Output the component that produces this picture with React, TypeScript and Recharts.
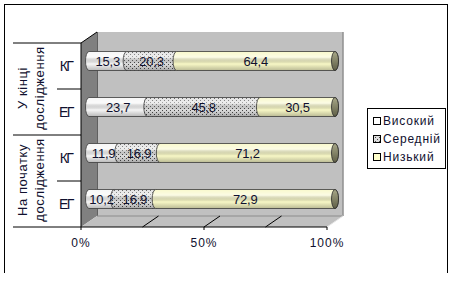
import React from "react";
import { BarChart, Bar, XAxis, YAxis, CartesianGrid, LabelList, Legend } from "recharts";

// ─── Data ────────────────────────────────────────────────────────────────────
const groupLabels = [["У кінці", "дослідження"], ["На початку", "дослідження"]];
const categories = ["КГ", "ЕГ", "КГ", "ЕГ"];
const highValues = [15.3, 23.7, 11.9, 10.2];
const mediumValues = [20.3, 45.8, 16.9, 16.9];
const lowValues = [64.4, 30.5, 71.2, 72.9];
const seriesNames = ["Високий", "Середній", "Низький"];
const xTicks = [0, 25, 50, 75, 100];

const data = categories.map((name, i) => ({
  id: String(i),
  name,
  high: highValues[i],
  medium: mediumValues[i],
  low: lowValues[i],
}));

// ─── Layout (3D box: front face + depth shift) ───────────────────────────────
const W = 453;
const H = 281;
const FRONT = { left: 81, top: 43, right: 327, bottom: 227 };
const DX = 16;
const DY = -11;
const BAND = (FRONT.bottom - FRONT.top) / categories.length;
const FONT = "'Liberation Sans', Arial, sans-serif";
const INK = "#10102e";
const RX = 3.5;
const TICK_SIZE = 6;
const TICK_MARGIN = 2;

const layer: React.CSSProperties = { position: "absolute", left: 0, top: 0 };

function cylinderPath(x: number, y: number, w: number, h: number) {
  const ry = h / 2;
  return `M${x},${y} L${x + w},${y} A${RX},${ry} 0 0 1 ${x + w},${y + h} L${x},${y + h} A${RX},${ry} 0 0 1 ${x},${y} Z`;
}

function makeCylinder(fill: string, withCap: boolean) {
  return (props: any) => {
    const { x, y, width, height } = props;
    if (!width || width <= 0) return <g />;
    const d = cylinderPath(x, y, width, height);
    return (
      <g>
        <path d={d} fill={fill} />
        <path d={d} fill="url(#shade)" stroke="#3a3a3a" strokeWidth={0.8} />
        {withCap && (
          <ellipse
            cx={x + width}
            cy={y + height / 2}
            rx={RX}
            ry={height / 2}
            fill="url(#capGrad)"
            stroke="#2a2a2a"
            strokeWidth={0.8}
          />
        )}
      </g>
    );
  };
}

const HighShape = makeCylinder("#f6f6f6", false);
const MediumShape = makeCylinder("url(#dots)", false);
const LowShape = makeCylinder("#f8f8c6", true);

function ValueLabel(props: any) {
  const { x, y, width, height, value } = props;
  return (
    <text
      x={x + width / 2}
      y={y + height / 2 + 4.5}
      textAnchor="middle"
      fontSize={13}
      fontFamily={FONT}
      fill={INK}
      letterSpacing={-0.2}
    >
      {String(value).replace(".", ",")}
    </text>
  );
}

// ─── Front axes ──────────────────────────────────────────────────────────────
function XTick(props: any) {
  const { x, payload } = props;
  const y = props.y - TICK_SIZE - TICK_MARGIN; // axis line
  const v = payload.value;
  const major = v % 50 === 0;
  return (
    <g>
      {v > 0 && v < 100 && (
        <line x1={x} y1={y} x2={x + DX} y2={y + DY} stroke="#000" strokeWidth={1} />
      )}
      {major && <line x1={x} y1={y} x2={x} y2={y + 3} stroke="#000" strokeWidth={1} />}
      {major && (
        <text x={x} y={y + 20} textAnchor="middle" fontSize={12} fontFamily={FONT} fill={INK} letterSpacing={1}>
          {v}%
        </text>
      )}
    </g>
  );
}

function YTick(props: any) {
  const { payload } = props;
  const x = props.x + TICK_SIZE + TICK_MARGIN; // axis line
  const y = props.y;
  const index = props.index ?? payload.index ?? 0;
  const half = BAND / 2;
  const groupEnd = index % 2 === 1;
  const group = groupLabels[Math.floor(index / 2)];
  return (
    <g>
      {index === 0 && <line x1={13} y1={y - half} x2={x} y2={y - half} stroke="#000" />}
      <line x1={groupEnd ? 13 : 57} y1={y + half} x2={x} y2={y + half} stroke="#000" />
      <text x={x - 15} y={y + 5} textAnchor="middle" fontSize={14} fontFamily={FONT} fill={INK} letterSpacing={-1.5}>
        {categories[index]}
      </text>
      {!groupEnd &&
        group.map((line, k) => (
          <text
            key={k}
            transform={`translate(${22 + k * 17},${y + half - 1}) rotate(-90)`}
            textAnchor="middle"
            dominantBaseline="central"
            fontSize={13}
            fontFamily={FONT}
            fill={INK}
            letterSpacing={0.6}
          >
            {line}
          </text>
        ))}
    </g>
  );
}

function LegendBox({ payload }: any) {
  const items = seriesNames
    .map((name) => (payload ?? []).find((p: any) => p.value === name))
    .filter(Boolean);
  return (
    <div
      style={{
        boxSizing: "border-box",
        width: 79,
        height: 61,
        border: "1px solid #000",
        background: "#fff",
        paddingTop: 3,
        fontFamily: FONT,
        fontSize: 12,
        letterSpacing: 0.8,
        color: INK,
      }}
    >
      {items.map((p: any) => (
        <div key={p.value} style={{ height: 18, display: "flex", alignItems: "center", paddingLeft: 5 }}>
          <svg width={8} height={8} style={{ marginRight: 2 }}>
            <rect x={0.5} y={0.5} width={7} height={7} fill={p.color} stroke="#000" strokeWidth={1} />
          </svg>
          <span>{p.value}</span>
        </div>
      ))}
    </div>
  );
}

export default function App() {
  const L = FRONT.left;
  const T = FRONT.top;
  const R = FRONT.right;
  const B = FRONT.bottom;
  return (
    <div style={{ position: "absolute", left: 0, top: 0, width: W, height: H, background: "#fff" }}>
      {/* back wall with gridlines */}
      <div style={layer}>
        <BarChart
          width={W}
          height={H}
          layout="vertical"
          data={data}
          margin={{ top: T + DY, right: W - (R + DX), bottom: H - (B + DY), left: L + DX }}
        >
          <CartesianGrid horizontal={false} stroke="#000" fill="#c0c0c0" fillOpacity={1} />
          <XAxis type="number" domain={[0, 100]} ticks={[25, 50, 75]} hide />
          <YAxis type="category" dataKey="id" hide />
        </BarChart>
      </div>

      {/* side wall and floor */}
      <svg width={W} height={H} style={layer}>
        <polygon points={`${L},${T} ${L + DX},${T + DY} ${L + DX},${B + DY} ${L},${B}`} fill="#808080" />
        <polygon points={`${L},${B} ${L + DX},${B + DY} ${R + DX},${B + DY} ${R},${B}`} fill="#c0c0c0" />
        <line x1={L} y1={T} x2={L + DX} y2={T + DY} stroke="#000" />
        <line x1={L + DX} y1={B + DY} x2={R + DX} y2={B + DY} stroke="#8c8c8c" />
        <line x1={R} y1={B} x2={R + DX} y2={B + DY} stroke="#e6e6e6" />
        <line x1={R + DX} y1={T + DY} x2={R + DX} y2={B + DY} stroke="#d8d8d8" />
      </svg>

      {/* cylinders at mid depth */}
      <div style={layer}>
        <BarChart
          width={W}
          height={H}
          layout="vertical"
          data={data}
          barSize={19}
          margin={{ top: T + DY / 2, right: W - (R + DX / 2), bottom: H - (B + DY / 2), left: L + DX / 2 }}
        >
          <defs>
            <pattern id="dots" width="4" height="4" patternUnits="userSpaceOnUse">
              <rect width="4" height="4" fill="#dedede" />
              <rect x="0" y="0" width="1" height="1" fill="#4a4a4a" />
              <rect x="2" y="2" width="1" height="1" fill="#4a4a4a" />
            </pattern>
            <linearGradient id="shade" x1="0" y1="0" x2="0" y2="1">
              <stop offset="0%" stopColor="#ffffff" stopOpacity={0.1} />
              <stop offset="30%" stopColor="#ffffff" stopOpacity={0.55} />
              <stop offset="65%" stopColor="#000000" stopOpacity={0} />
              <stop offset="100%" stopColor="#000000" stopOpacity={0.25} />
            </linearGradient>
            <linearGradient id="capGrad" x1="0" y1="0" x2="0" y2="1">
              <stop offset="0%" stopColor="#a8a888" />
              <stop offset="100%" stopColor="#5e5e46" />
            </linearGradient>
          </defs>
          <XAxis type="number" domain={[0, 100]} hide />
          <YAxis type="category" dataKey="id" hide />
          <Legend
            layout="horizontal"
            verticalAlign="middle"
            align="center"
            content={<LegendBox />}
            wrapperStyle={{ left: 367, top: 108, width: 79, height: 61 }}
          />
          <Bar dataKey="high" name={seriesNames[0]} stackId="s" fill="#ffffff" shape={HighShape} isAnimationActive={false}>
            <LabelList dataKey="high" content={ValueLabel} />
          </Bar>
          <Bar dataKey="medium" name={seriesNames[1]} stackId="s" fill="url(#dots)" shape={MediumShape} isAnimationActive={false}>
            <LabelList dataKey="medium" content={ValueLabel} />
          </Bar>
          <Bar dataKey="low" name={seriesNames[2]} stackId="s" fill="#ffffcc" shape={LowShape} isAnimationActive={false}>
            <LabelList dataKey="low" content={ValueLabel} />
          </Bar>
        </BarChart>
      </div>

      {/* front axes (an invisible stacked series gives the number axis its data) */}
      <div style={layer}>
        <BarChart
          width={W}
          height={H}
          layout="vertical"
          data={data}
          margin={{ top: T, right: W - R, bottom: 0, left: 0 }}
        >
          <XAxis
            type="number"
            domain={[0, 100]}
            allowDataOverflow
            ticks={xTicks}
            height={H - B}
            axisLine={{ stroke: "#000" }}
            tickLine={false}
            tick={<XTick />}
            interval={0}
          />
          <YAxis
            type="category"
            dataKey="id"
            width={L}
            axisLine={{ stroke: "#000" }}
            tickLine={false}
            tick={<YTick />}
            interval={0}
          />
          <Bar dataKey="high" stackId="f" fill="none" legendType="none" isAnimationActive={false} />
          <Bar dataKey="medium" stackId="f" fill="none" legendType="none" isAnimationActive={false} />
          <Bar dataKey="low" stackId="f" fill="none" legendType="none" isAnimationActive={false} />
        </BarChart>
      </div>

      {/* outer chart border (no bottom edge in the source) */}
      <div
        style={{
          position: "absolute",
          left: 4,
          top: 4,
          width: 444,
          height: 269,
          boxSizing: "border-box",
          borderTop: "1px solid #000",
          borderLeft: "1px solid #000",
          borderRight: "1px solid #000",
          pointerEvents: "none",
        }}
      />
    </div>
  );
}
